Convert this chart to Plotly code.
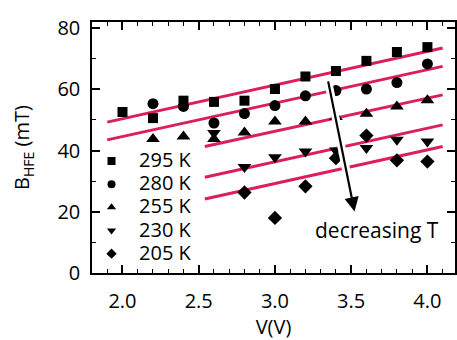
import plotly.graph_objects as go

# ---- data ----
V295 = [2.0, 2.2, 2.4, 2.6, 2.8, 3.0, 3.2, 3.4, 3.6, 3.8, 4.0]
B295 = [52.6, 50.6, 56.3, 55.9, 56.3, 60.1, 64.2, 66.0, 69.3, 72.2, 73.8]

V280 = [2.2, 2.4, 2.6, 2.8, 3.0, 3.2, 3.4, 3.6, 3.8, 4.0]
B280 = [55.3, 54.4, 49.0, 52.1, 54.7, 57.9, 59.6, 60.1, 62.2, 68.3]

V255 = [2.2, 2.4, 2.6, 2.8, 3.0, 3.2, 3.4, 3.6, 3.8, 4.0]
B255 = [43.8, 44.6, 43.8, 45.9, 49.5, 49.5, 51.0, 52.0, 54.4, 56.4]

V230 = [2.6, 2.8, 3.0, 3.2, 3.4, 3.6, 3.8, 4.0]
B230 = [45.7, 34.6, 37.8, 39.7, 40.0, 40.8, 43.5, 43.0]

V205 = [2.8, 3.0, 3.2, 3.4, 3.6, 3.8, 4.0]
B205 = [26.3, 18.0, 28.3, 37.5, 44.9, 36.8, 36.4]

labels = ["295 K", "280 K", "255 K", "230 K", "205 K"]
symbols = ["square", "circle", "triangle-up", "triangle-down", "diamond"]

# linear fit lines (end points)
fit_x0 = [1.90, 1.90, 2.54, 2.54, 2.54]
fit_x1 = [4.10, 4.10, 4.10, 4.10, 4.10]
fit_y0 = [49.3, 43.5, 41.3, 31.3, 24.2]
fit_y1 = [73.5, 67.5, 58.2, 48.4, 41.3]

# arrow "decreasing T"
arrow_tail = (3.347, 63.1)
arrow_head = (3.522, 20.1)
text_pos = (3.669, 14.1)

RED = "#DC1E5A"
FONT = "Open Sans"
FS = 20

fig = go.Figure()

# fit lines
for x0, x1, y0, y1 in zip(fit_x0, fit_x1, fit_y0, fit_y1):
    fig.add_trace(go.Scatter(x=[x0, x1], y=[y0, y1], mode="lines",
                             line=dict(color=RED, width=3), showlegend=False,
                             hoverinfo="skip"))

series = [(V295, B295), (V280, B280), (V255, B255), (V230, B230), (V205, B205)]
sizes = [10, 11, 12, 12, 11]
for (vx, by), sym, sz in zip(series, symbols, sizes):
    fig.add_trace(go.Scatter(x=vx, y=by, mode="markers",
                             marker=dict(symbol=sym, size=sz, color="black"),
                             showlegend=False))

# legend entries (smaller markers, as in the reference)
for lab, sym in zip(labels, symbols):
    fig.add_trace(go.Scatter(x=[None], y=[None], mode="markers",
                             name=f"<span style='font-size:{FS}px'>{lab}</span>",
                             marker=dict(symbol=sym, size=8, color="black")))

# white halo under the arrow
fig.add_shape(type="line", x0=arrow_tail[0], y0=arrow_tail[1],
              x1=arrow_head[0], y1=arrow_head[1], xref="x", yref="y",
              line=dict(color="white", width=8), layer="above")

fig.add_annotation(x=arrow_head[0], y=arrow_head[1], ax=arrow_tail[0], ay=arrow_tail[1],
                   xref="x", yref="y", axref="x", ayref="y", text="",
                   showarrow=True, arrowhead=2, arrowsize=1.3, arrowwidth=2.2,
                   arrowcolor="black")
fig.add_annotation(x=text_pos[0], y=text_pos[1], xref="x", yref="y",
                   text="decreasing T", showarrow=False,
                   font=dict(family=FONT, size=FS + 1, color="black"))

axis_common = dict(showline=True, linecolor="black", linewidth=1.5, mirror="allticks",
                   ticks="inside", ticklen=8, tickwidth=1.5, tickcolor="black",
                   showgrid=False, zeroline=False,
                   tickfont=dict(family=FONT, size=FS, color="black"))

fig.update_xaxes(range=[1.8, 4.181], dtick=0.5, tick0=2.0, tickformat=".1f",
                 minor=dict(dtick=0.1, ticklen=4, ticks="inside", tickcolor="black", tickwidth=1.2),
                 title=dict(text="V(V)", font=dict(family=FONT, size=FS, color="black"), standoff=10),
                 ticklabelstandoff=9, **axis_common)
fig.update_yaxes(range=[0, 82], dtick=20, tick0=0,
                 minor=dict(dtick=10, ticklen=4, ticks="inside", tickcolor="black", tickwidth=1.2),
                 title=dict(text="B<sub>HFE</sub> (mT)", font=dict(family=FONT, size=FS, color="black"), standoff=22),
                 ticklabelstandoff=6, **axis_common)

fig.update_layout(width=457, height=340, margin=dict(l=92, r=0, t=22, b=67),
                  plot_bgcolor="white", paper_bgcolor="white",
                  font=dict(family=FONT, size=FS, color="black"),
                  legend=dict(x=-0.022, y=0.512, xanchor="left", yanchor="top",
                              bgcolor="rgba(0,0,0,0)", font=dict(family=FONT, size=15.5),
                              itemsizing="trace", itemwidth=45, tracegroupgap=0))

fig.write_html("out.html")
